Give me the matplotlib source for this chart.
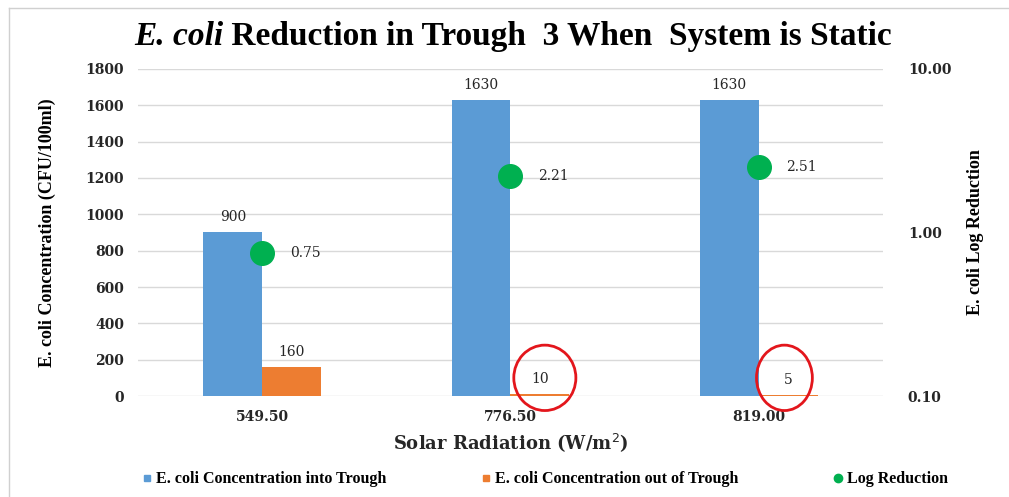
import numpy as np
import matplotlib.pyplot as plt
from matplotlib.patches import Ellipse
from matplotlib.lines import Line2D

categories = ['549.50', '776.50', '819.00']
conc_in = [900, 1630, 1630]
conc_out = [160, 10, 5]
log_reduction = [0.75, 2.21, 2.51]
circled = [1, 2]  # categories whose "out" label is circled in red

blue = '#5B9BD5'
orange = '#ED7D31'
green = '#00B050'
red = '#E3161C'
serif_tick = 'DejaVu Serif'
times = 'Liberation Serif'

fig = plt.figure(figsize=(10.09, 4.97), dpi=100)
ax = fig.add_axes([0.1368, 0.2032, 0.7382, 0.6580])

x = np.arange(len(categories))
w = 0.237
ax.bar(x - w / 2, conc_in, w, color=blue, zorder=2)
ax.bar(x + w / 2, conc_out, w, color=orange, zorder=2)

ax.set_ylim(0, 1800)
ax.set_yticks(range(0, 1801, 200))
ax.set_xlim(-0.5, len(categories) - 0.5)
ax.set_xticks(x)
ax.set_xticklabels(categories)
ax.grid(axis='y', color='#D9D9D9', linewidth=1, zorder=0)
for s in ax.spines.values():
    s.set_visible(False)
ax.tick_params(length=0, pad=10)
for lab in ax.get_yticklabels() + ax.get_xticklabels():
    lab.set_fontfamily(serif_tick)
    lab.set_fontweight('bold')
    lab.set_fontsize(10)
    lab.set_color('#262626')

for i in range(len(categories)):
    ax.annotate(str(conc_in[i]), (x[i] - w / 2, conc_in[i]), xytext=(0, 6),
                textcoords='offset points', ha='center', va='bottom',
                fontfamily=serif_tick, fontsize=10, color='#262626')
    ax.annotate(str(conc_out[i]), (x[i] + w / 2, conc_out[i]), xytext=(0, 6),
                textcoords='offset points', ha='center', va='bottom',
                fontfamily=serif_tick, fontsize=10, color='#262626')

ax2 = ax.twinx()
ax2.set_yscale('log')
ax2.set_ylim(0.1, 10)
ax2.set_yticks([0.1, 1, 10])
ax2.set_yticklabels(['0.10', '1.00', '10.00'])
ax2.minorticks_off()
for s in ax2.spines.values():
    s.set_visible(False)
ax2.tick_params(length=0, pad=18)
for lab in ax2.get_yticklabels():
    lab.set_fontfamily(serif_tick)
    lab.set_fontweight('bold')
    lab.set_fontsize(10)
    lab.set_color('#262626')
ax2.plot(x, log_reduction, 'o', color=green, markersize=17, zorder=3)
for i in range(len(categories)):
    ax2.annotate(f'{log_reduction[i]:.2f}', (x[i], log_reduction[i]), xytext=(20, 0),
                 textcoords='offset points', ha='left', va='center',
                 fontfamily=serif_tick, fontsize=10, color='#262626')

# red hand-drawn circles around the tiny "out" labels
circle_dx = [0.02, -0.015]
circle_w = [0.25, 0.225]
for k, i in enumerate(circled):
    e = Ellipse((x[i] + w / 2 + circle_dx[k], 100), circle_w[k], 360, fill=False,
                edgecolor=red, linewidth=2, zorder=4, clip_on=False)
    ax.add_patch(e)

ax.set_ylabel('E. coli Concentration (CFU/100ml)', fontfamily=times,
              fontweight='bold', fontsize=13, labelpad=21)
ax2.set_ylabel('E. coli Log Reduction', fontfamily=times, fontweight='bold',
               fontsize=13, labelpad=11)
ax.set_xlabel('Solar Radiation (W/m$^2$)', fontfamily=serif_tick,
              fontweight='bold', fontsize=13, labelpad=5, color='#262626')

# title with italic species name
fig.canvas.draw()
r = fig.canvas.get_renderer()
t1 = fig.text(0, 0.927, 'E. coli', fontfamily=times, fontstyle='italic',
              fontweight='bold', fontsize=24, va='center')
t2 = fig.text(0, 0.927, ' Reduction in Trough  3 When  System is Static',
              fontfamily=times, fontweight='bold', fontsize=24, va='center')
w1 = t1.get_window_extent(r).width
w2 = t2.get_window_extent(r).width
x0 = 513 - (w1 + w2) / 2
t1.set_x(x0 / 1009)
t2.set_x((x0 + w1) / 1009)

handles = [Line2D([], [], marker='s', linestyle='', color=blue, markersize=5),
           Line2D([], [], marker='s', linestyle='', color=orange, markersize=5),
           Line2D([], [], marker='o', linestyle='', color=green, markersize=6)]
labels = ['E. coli Concentration into Trough', 'E. coli Concentration out of Trough',
          'Log Reduction']
fig.legend(handles, labels, loc='center', bbox_to_anchor=(0.538, 0.036), ncol=3,
           frameon=False, handletextpad=0.0, columnspacing=5.6, handlelength=1.2,
           prop={'family': times, 'weight': 'bold', 'size': 11.5})

# outer frame lines (left and top)
fig.add_artist(Line2D([9 / 1009, 9 / 1009], [0, 1 - 8 / 497], color='#D0D0D0', lw=1))
fig.add_artist(Line2D([9 / 1009, 1], [1 - 8 / 497, 1 - 8 / 497], color='#D0D0D0', lw=1))

fig.savefig('out.png', dpi=100)
